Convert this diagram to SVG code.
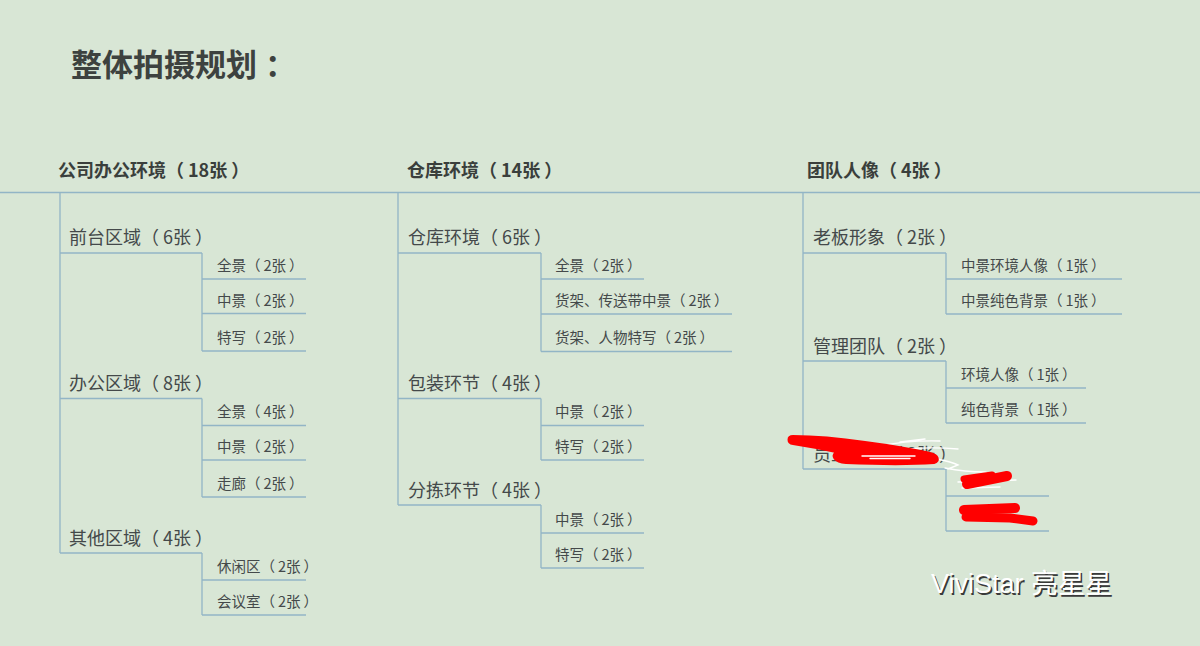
<svg xmlns="http://www.w3.org/2000/svg" width="1200" height="646" viewBox="0 0 1200 646">
<style>
text{font-family:"Noto Sans CJK SC","Noto Sans",sans-serif;fill:#44494a}
.title{font-size:31px;font-weight:bold;fill:#3d423f}
.h0{font-size:18px;font-weight:bold;fill:#3a3f3c}
.h1{font-size:18px}
.h2{font-size:14.5px}
.ln{fill:none;stroke:#92b5c6;stroke-width:1.3}
.red{fill:#f00;stroke:#f00;stroke-linecap:round;stroke-linejoin:round}
.rs{fill:none;stroke:#f00;stroke-linecap:round;stroke-linejoin:round}
.wht{fill:none;stroke:#fff;stroke-width:1.4;stroke-linecap:round}
.wm{font-family:"Liberation Sans","Noto Sans CJK SC",sans-serif;font-size:27px;fill:#fff}
</style>
<rect width="1200" height="646" fill="#d8e6d5"/>
<text class="title" x="71" y="76">整体拍摄规划<tspan dx="8">：</tspan></text>

<g id="connectors">
<path class="ln" d="M0,192.5H1200"/>
<path class="ln" d="M60,192.5V553M60,253H202M202,253V351M202,279H306M202,313.5H306M202,351H306"/>
<path class="ln" d="M60,398.5H202M202,398.5V497M202,425.5H306M202,460H306M202,497H306"/>
<path class="ln" d="M60,553H202M202,553V615M202,580H306M202,615H306"/>
<path class="ln" d="M398,192.5V505M398,253H541M541,253V351.5M541,279H644M541,314H732M541,351.5H732"/>
<path class="ln" d="M398,398.5H541M541,398.5V460M541,425.5H644M541,460H644"/>
<path class="ln" d="M398,505H541M541,505V568M541,533H644M541,568H644"/>
<path class="ln" d="M803,192.5V469M803,253H946M946,253V314M946,279H1122M946,314H1122"/>
<path class="ln" d="M803,361H946M946,361V423M946,388H1086M946,423H1086"/>
<path class="ln" d="M803,469H946M946,469V531M946,496H1049M946,531H1049"/>
</g>

<g id="col1">
<text class="h0" x="58" y="177">公司办公环境（<tspan dx="4">18张</tspan><tspan dx="4">）</tspan></text>
<g id="n-qiantai"><text class="h1" x="69" y="244">前台区域（<tspan dx="4">6张</tspan><tspan dx="4">）</tspan></text>
<text class="h2" x="217" y="271">全景（<tspan dx="3">2张</tspan><tspan dx="3">）</tspan></text>
<text class="h2" x="217" y="306">中景（<tspan dx="3">2张</tspan><tspan dx="3">）</tspan></text>
<text class="h2" x="217" y="343">特写（<tspan dx="3">2张</tspan><tspan dx="3">）</tspan></text></g>
<g id="n-bangong"><text class="h1" x="69" y="390">办公区域（<tspan dx="4">8张</tspan><tspan dx="4">）</tspan></text>
<text class="h2" x="217" y="417">全景（<tspan dx="3">4张</tspan><tspan dx="3">）</tspan></text>
<text class="h2" x="217" y="452">中景（<tspan dx="3">2张</tspan><tspan dx="3">）</tspan></text>
<text class="h2" x="217" y="489">走廊（<tspan dx="3">2张</tspan><tspan dx="3">）</tspan></text></g>
<g id="n-qita"><text class="h1" x="69" y="545">其他区域（<tspan dx="4">4张</tspan><tspan dx="4">）</tspan></text>
<text class="h2" x="217" y="572">休闲区（<tspan dx="3">2张</tspan><tspan dx="3">）</tspan></text>
<text class="h2" x="217" y="607">会议室（<tspan dx="3">2张</tspan><tspan dx="3">）</tspan></text></g>
</g>

<g id="col2">
<text class="h0" x="407" y="177">仓库环境（<tspan dx="4">14张</tspan><tspan dx="4">）</tspan></text>
<g id="n-cangku"><text class="h1" x="408" y="244">仓库环境（<tspan dx="4">6张</tspan><tspan dx="4">）</tspan></text>
<text class="h2" x="555" y="271">全景（<tspan dx="3">2张</tspan><tspan dx="3">）</tspan></text>
<text class="h2" x="555" y="306">货架、传送带中景（<tspan dx="3">2张</tspan><tspan dx="3">）</tspan></text>
<text class="h2" x="555" y="343">货架、人物特写（<tspan dx="3">2张</tspan><tspan dx="3">）</tspan></text></g>
<g id="n-baozhuang"><text class="h1" x="408" y="390">包装环节（<tspan dx="4">4张</tspan><tspan dx="4">）</tspan></text>
<text class="h2" x="555" y="417">中景（<tspan dx="3">2张</tspan><tspan dx="3">）</tspan></text>
<text class="h2" x="555" y="452">特写（<tspan dx="3">2张</tspan><tspan dx="3">）</tspan></text></g>
<g id="n-fenjian"><text class="h1" x="408" y="497">分拣环节（<tspan dx="4">4张</tspan><tspan dx="4">）</tspan></text>
<text class="h2" x="555" y="525">中景（<tspan dx="3">2张</tspan><tspan dx="3">）</tspan></text>
<text class="h2" x="555" y="560">特写（<tspan dx="3">2张</tspan><tspan dx="3">）</tspan></text></g>
</g>

<g id="col3">
<text class="h0" x="807" y="177">团队人像（<tspan dx="4">4张</tspan><tspan dx="4">）</tspan></text>
<g id="n-laoban"><text class="h1" x="813" y="244">老板形象（<tspan dx="4">2张</tspan><tspan dx="4">）</tspan></text>
<text class="h2" x="961" y="271">中景环境人像（<tspan dx="3">1张</tspan><tspan dx="3">）</tspan></text>
<text class="h2" x="961" y="306">中景纯色背景（<tspan dx="3">1张</tspan><tspan dx="3">）</tspan></text></g>
<g id="n-guanli"><text class="h1" x="813" y="353">管理团队（<tspan dx="4">2张</tspan><tspan dx="4">）</tspan></text>
<text class="h2" x="961" y="380">环境人像（<tspan dx="3">1张</tspan><tspan dx="3">）</tspan></text>
<text class="h2" x="961" y="415">纯色背景（<tspan dx="3">1张</tspan><tspan dx="3">）</tspan></text></g>
<g id="n-hidden"><text class="h1" x="813" y="461">员工形象（<tspan dx="4">2张</tspan><tspan dx="4">）</tspan></text>
<path class="wht" d="M878,446 Q910,440 940,441 M888,451 Q925,446 958,449 M900,442 L925,439 M937,459 Q952,462 958,465 L948,469 M945,468 Q965,472 985,472 L1003,478 M958,482 L1016,480 M962,488 L1000,487"/>
<path class="red" stroke-width="2" d="M793,436 C820,436 845,439 865,442 C888,445 912,449 930,453 C939,455 940,461 934,463 C905,465 870,464 846,463 C834,462 831,456 836,452 C822,449 806,446 793,444 C787,443 787,436 793,436 Z"/>
<path class="rs" stroke-width="8" d="M845,458 L930,459 M860,450 L925,455"/>
<path class="wht" d="M862,456 H915 M870,458.5 H910"/>
<path class="rs" stroke-width="10" d="M967,484 L1007,476"/>
<path class="rs" stroke-width="7" d="M964,479 L992,475"/>
<path class="rs" stroke-width="10" d="M964,510 L1015,508"/>
<path class="rs" stroke-width="9" d="M966,517 L1010,518 L1033,521"/>
</g>
</g>

<text class="wm" x="931" y="593" style="fill:#3a3a3a" transform="translate(1.5,1.5)">ViviStar 亮星星</text>
<text class="wm" x="931" y="593">ViviStar 亮星星</text>
</svg>
